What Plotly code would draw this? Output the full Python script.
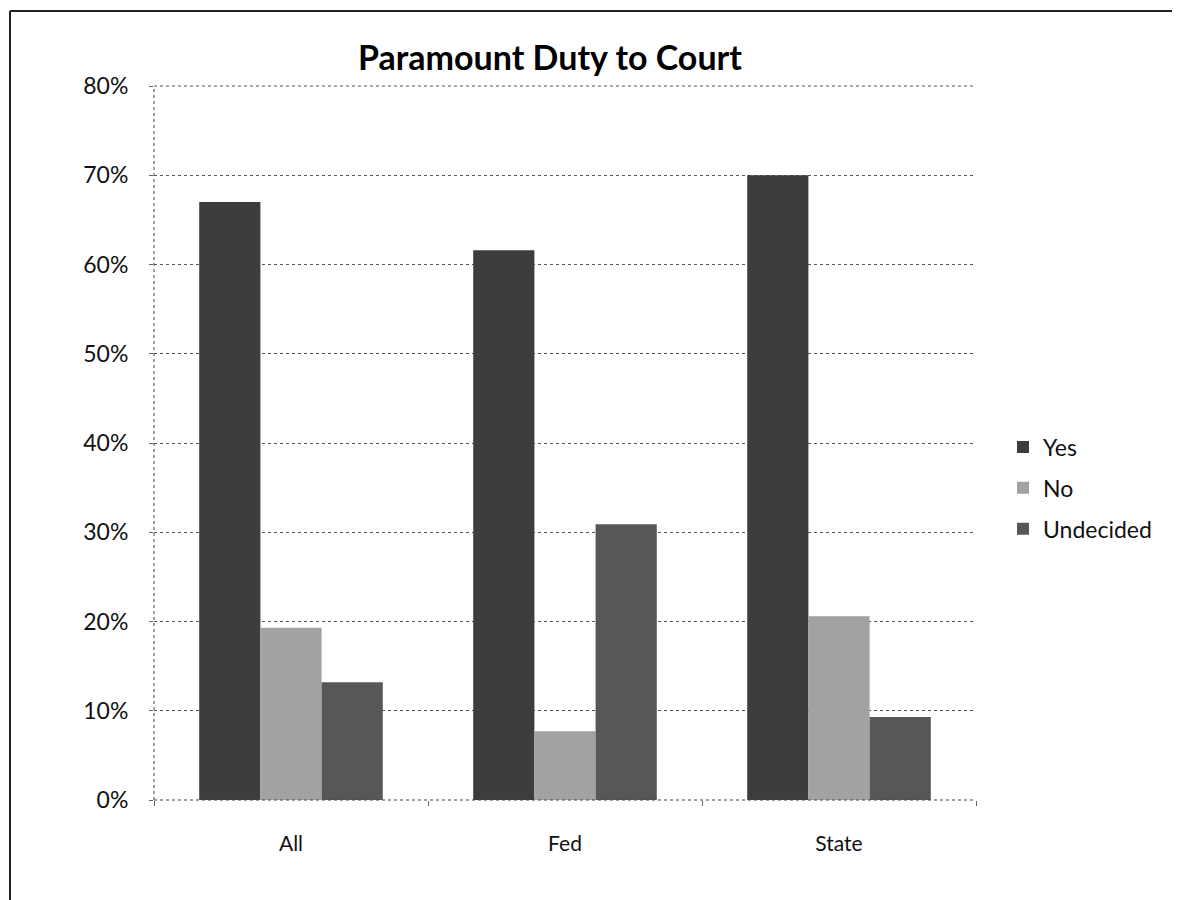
import plotly.graph_objects as go

categories = ["All", "Fed", "State"]
series_names = ["Yes", "No", "Undecided"]
yes_vals = [0.67, 0.616, 0.70]
no_vals = [0.193, 0.077, 0.206]
undecided_vals = [0.132, 0.309, 0.093]
y_tick_vals = [0, 0.1, 0.2, 0.3, 0.4, 0.5, 0.6, 0.7, 0.8]
y_tick_text = ["0%", "10%", "20%", "30%", "40%", "50%", "60%", "70%", "80%"]
colors = ["#3d3d3d", "#a2a2a2", "#575757"]

FONT = "Lato"
OFF = 8  # page body margin
W, H = 1180 - OFF, 900 - OFF
# target positions in the screenshot (page coords)
PL, PR, PT, PB = 154, 976, 86, 800
L, T = PL - OFF, PT - OFF
R = W - (PR - OFF)
B = H - (PB - OFF)
pw = PR - PL
ph = PB - PT


def px(x):
    return (x - PL) / pw


def py(y):
    return (PB - y) / ph


fig = go.Figure()
for name, vals, col in zip(series_names, [yes_vals, no_vals, undecided_vals], colors):
    fig.add_trace(go.Bar(
        x=categories, y=vals, name=name, legendgroup=name,
        marker=dict(color=col, line=dict(width=0)),
    ))

fig.update_layout(
    width=W, height=H,
    margin=dict(l=L, r=R, t=T, b=B, autoexpand=False),
    paper_bgcolor="white", plot_bgcolor="white",
    barmode="group", bargap=0.33, bargroupgap=0,
    font=dict(family=FONT, size=22, color="#111"),
    title=dict(text="<b>Paramount Duty to Court</b>", x=px(550), xref="paper",
               xanchor="center", y=1 - (58 - OFF) / H, yanchor="middle",
               font=dict(family=FONT, size=34, color="#000")),
    legend=dict(x=px(1003), y=py(488), xanchor="left", yanchor="middle",
                font=dict(family=FONT, size=23, color="#111"),
                traceorder="grouped", tracegroupgap=8, itemwidth=30,
                bgcolor="rgba(0,0,0,0)"),
    showlegend=True,
    shapes=[
        dict(type="line", xref="paper", yref="paper",
             x0=px(10), x1=px(1185), y0=py(11), y1=py(11),
             line=dict(color="#222", width=2)),
        dict(type="line", xref="paper", yref="paper",
             x0=px(10), x1=px(10), y0=py(11), y1=py(905),
             line=dict(color="#222", width=2)),
        dict(type="line", xref="paper", yref="paper",
             x0=0, x1=0, y0=0, y1=1,
             line=dict(color="#444", width=1, dash="dot")),
        dict(type="line", xref="paper", yref="paper",
             x0=0, x1=1, y0=0, y1=0,
             line=dict(color="#444", width=1, dash="dot")),
        dict(type="line", xref="paper", yref="paper",
             x0=0, x1=1, y0=1, y1=1,
             line=dict(color="#555", width=1, dash="dot")),
    ],
)

fig.update_yaxes(
    range=[0, 0.8], tickvals=y_tick_vals, ticktext=y_tick_text,
    showgrid=True, gridcolor="#555", griddash="dot", gridwidth=1,
    showline=False,
    ticks="outside", ticklen=4, tickcolor="#666",
    zeroline=False, tickfont=dict(family=FONT, size=23, color="#111"),
    ticklabelstandoff=16,
)
fig.update_xaxes(
    showline=False,
    ticks="outside", ticklen=5, tickcolor="#666", tickson="boundaries",
    showgrid=False, tickfont=dict(family=FONT, size=21, color="#111"),
    ticklabelstandoff=29,
)

fig.write_html("out.html")
